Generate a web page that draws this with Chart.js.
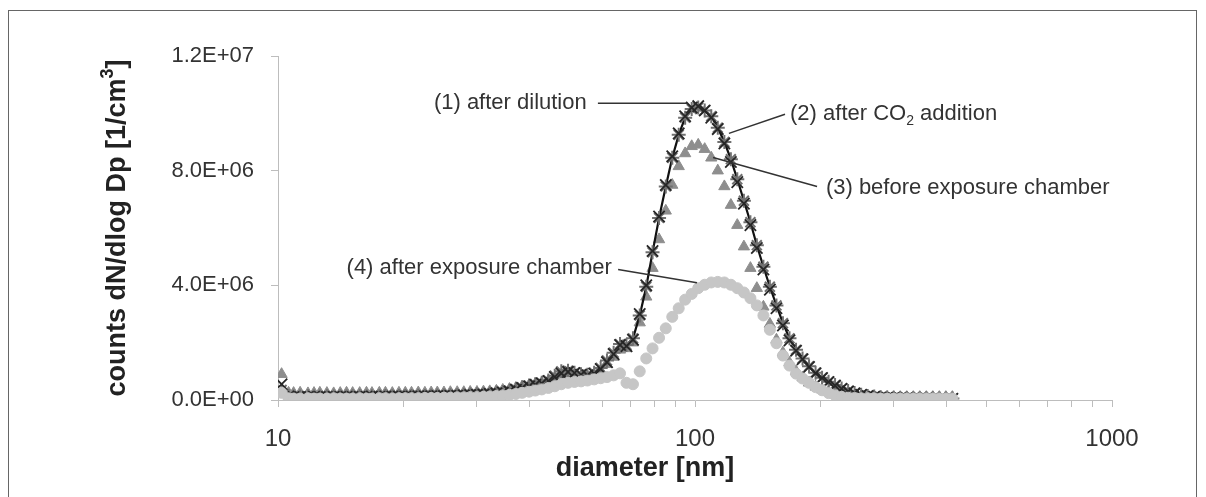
<!DOCTYPE html>
<html>
<head>
<meta charset="utf-8">
<script src="https://cdn.jsdelivr.net/npm/chart.js@4/dist/chart.umd.min.js"></script>
<style>
  html, body { margin: 0; padding: 0; background: #fff; }
</style>
</head>
<body>
<canvas id="chart" width="1206" height="497"></canvas>
<script>
// DATA  (counts in units of 1E+06 per cm3)

var diameters = [
  10.2, 10.6, 10.9, 11.3, 11.8, 12.2, 12.6, 13.1, 13.6, 14.1,
  14.6, 15.1, 15.7, 16.3, 16.8, 17.5, 18.1, 18.8, 19.5, 20.2,
  20.9, 21.7, 22.5, 23.3, 24.1, 25.0, 25.9, 26.9, 27.9, 28.9,
  30.0, 31.1, 32.2, 33.4, 34.6, 35.9, 37.2, 38.5, 40.0, 41.4,
  42.9, 44.5, 46.1, 47.8, 49.6, 51.4, 53.3, 55.2, 57.3, 59.4,
  61.5, 63.8, 66.1, 68.5, 71.0, 73.7, 76.4, 79.1, 82.0, 85.1,
  88.2, 91.4, 94.7, 98.2, 101.8, 105.5, 109.4, 113.4, 117.6, 121.9,
  126.3, 131.0, 135.8, 140.7, 145.9, 151.2, 156.8, 162.5, 168.5, 174.7,
  181.1, 187.7, 194.6, 201.7, 209.1, 216.7, 224.7, 232.9, 241.4, 250.3,
  259.5, 269.0, 278.8, 289.0, 299.6, 310.6, 322.0, 333.8, 346.0, 358.7,
  371.8, 385.4, 399.5, 414.2
];

var afterDilution = [
  0.55, 0.12, 0.10, 0.10, 0.10, 0.11, 0.10, 0.10, 0.11, 0.10,
  0.11, 0.10, 0.11, 0.11, 0.12, 0.11, 0.12, 0.12, 0.12, 0.12,
  0.12, 0.13, 0.13, 0.13, 0.14, 0.14, 0.15, 0.15, 0.16, 0.17,
  0.18, 0.19, 0.21, 0.23, 0.26, 0.30, 0.36, 0.42, 0.48, 0.53,
  0.58, 0.66, 0.80, 0.93, 0.98, 0.94, 0.88, 0.86, 0.92, 1.08,
  1.32, 1.60, 1.92, 1.88, 2.10, 3.00, 4.00, 5.20, 6.40, 7.50,
  8.50, 9.30, 9.90, 10.20, 10.25, 10.10, 9.85, 9.45, 8.95, 8.30,
  7.60, 6.85, 6.10, 5.30, 4.55, 3.85, 3.20, 2.60, 2.08, 1.72,
  1.42, 1.15, 0.93, 0.77, 0.63, 0.50, 0.39, 0.30, 0.23, 0.18,
  0.14, 0.11, 0.09, 0.08, 0.07, 0.06, 0.06, 0.05, 0.05, 0.05,
  0.04, 0.04, 0.04, 0.04
];

var afterCO2 = [
  0.35, 0.14, 0.12, 0.12, 0.13, 0.12, 0.12, 0.13, 0.12, 0.13,
  0.12, 0.13, 0.13, 0.12, 0.13, 0.13, 0.14, 0.13, 0.14, 0.14,
  0.14, 0.15, 0.14, 0.15, 0.16, 0.16, 0.17, 0.17, 0.18, 0.19,
  0.20, 0.21, 0.23, 0.25, 0.28, 0.32, 0.38, 0.44, 0.50, 0.55,
  0.60, 0.68, 0.85, 1.00, 1.02, 0.95, 0.90, 0.88, 0.95, 1.12,
  1.38, 1.65, 1.95, 1.92, 2.15, 2.95, 3.95, 5.15, 6.35, 7.45,
  8.45, 9.25, 9.85, 10.15, 10.20, 10.10, 9.90, 9.50, 9.00, 8.40,
  7.70, 6.95, 6.20, 5.40, 4.65, 3.95, 3.30, 2.68, 2.15, 1.75,
  1.45, 1.18, 0.95, 0.78, 0.64, 0.52, 0.40, 0.31, 0.24, 0.18,
  0.14, 0.12, 0.10, 0.09, 0.08, 0.07, 0.07, 0.06, 0.06, 0.06,
  0.06, 0.05, 0.05, 0.05
];

var beforeChamber = [
  0.90, 0.25, 0.24, 0.25, 0.23, 0.24, 0.25, 0.24, 0.23, 0.24,
  0.25, 0.24, 0.24, 0.25, 0.24, 0.25, 0.25, 0.24, 0.25, 0.25,
  0.25, 0.26, 0.25, 0.26, 0.26, 0.26, 0.27, 0.27, 0.27, 0.28,
  0.28, 0.29, 0.30, 0.32, 0.35, 0.38, 0.42, 0.47, 0.52, 0.56,
  0.60, 0.67, 0.78, 0.88, 0.92, 0.88, 0.84, 0.83, 0.88, 1.02,
  1.25, 1.50, 1.75, 1.80, 2.00, 2.70, 3.60, 4.60, 5.60, 6.60,
  7.50, 8.15, 8.60, 8.85, 8.90, 8.75, 8.45, 8.00, 7.45, 6.80,
  6.10, 5.35, 4.60, 3.90, 3.25, 2.65, 2.10, 1.65, 1.30, 1.00,
  0.78, 0.60, 0.46, 0.36, 0.28, 0.22, 0.18, 0.15, 0.13, 0.12,
  0.11, 0.11, 0.10, 0.10, 0.10, 0.10, 0.10, 0.10, 0.10, 0.10,
  0.10, 0.10, 0.10, 0.10
];

var afterChamber = [
  0.25, 0.06, 0.05, 0.05, 0.06, 0.05, 0.05, 0.05, 0.06, 0.05,
  0.05, 0.05, 0.06, 0.05, 0.05, 0.06, 0.06, 0.05, 0.06, 0.06,
  0.06, 0.06, 0.07, 0.07, 0.07, 0.08, 0.08, 0.09, 0.09, 0.10,
  0.10, 0.11, 0.12, 0.14, 0.16, 0.18, 0.21, 0.25, 0.29, 0.33,
  0.37, 0.42, 0.48, 0.55, 0.60, 0.63, 0.65, 0.68, 0.72, 0.76,
  0.80, 0.86, 0.93, 0.60, 0.55, 1.00, 1.45, 1.80, 2.17, 2.50,
  2.90, 3.20, 3.50, 3.70, 3.90, 4.02, 4.10, 4.12, 4.10, 4.02,
  3.90, 3.75, 3.55, 3.30, 2.95, 2.45, 1.98, 1.55, 1.20, 0.92,
  0.75, 0.60, 0.45, 0.34, 0.24, 0.16, 0.11, 0.08, 0.07, 0.06,
  0.06, 0.06, 0.05, 0.05, 0.05, 0.05, 0.05, 0.05, 0.05, 0.05,
  0.05, 0.05, 0.05, 0.05
];

var xTicks = [10, 20, 30, 40, 50, 60, 70, 80, 90, 100, 200, 300, 400, 500, 600, 700, 800, 900, 1000];
var xLabels = [10, 100, 1000];
var yTicks = [0, 4, 8, 12];

// labels with leader lines, placed in data coordinates (diameter, counts)
var notes = [
  { parts: [['(1) after dilution']], at: [55.0, 10.35], align: 'right', from: [58.5, 10.35], to: [96.0, 10.35] },
  { parts: [['(2) after CO'], ['2', 'sub'], [' addition']], at: [169, 9.97], align: 'left', from: [164.4, 9.97], to: [120.6, 9.3] },
  { parts: [['(3) before exposure chamber']], at: [206, 7.41], align: 'left', from: [196.2, 7.45], to: [110.5, 8.46] },
  { parts: [['(4) after exposure chamber']], at: [63.2, 4.62], align: 'right', from: [65.4, 4.55], to: [101.1, 4.09] }
];

function points(values) {
  return diameters.map(function (d, i) { return { x: d, y: values[i] }; });
}

function sci(v) {
  return (v * 1e6).toExponential(1).toUpperCase().replace(/E([+-])(\d)$/, 'E$10$2');
}

var FONT = '"Liberation Sans", Arial, sans-serif';
var INK = '#333';

function drawParts(ctx, parts, x, y, align, size, bold) {
  var w = 0;
  var fonts = parts.map(function (p) {
    var s = p[1] ? Math.round(size * 0.65) : size;
    return (bold ? 'bold ' : '') + s + 'px ' + FONT;
  });
  parts.forEach(function (p, i) { ctx.font = fonts[i]; w += ctx.measureText(p[0]).width; });
  var cx = align === 'right' ? x - w : (align === 'center' ? x - w / 2 : x);
  parts.forEach(function (p, i) {
    ctx.font = fonts[i];
    var dy = p[1] === 'sub' ? size * 0.3 : (p[1] === 'sup' ? -size * 0.38 : 0);
    ctx.fillText(p[0], cx, y + dy);
    cx += ctx.measureText(p[0]).width;
  });
}

var extras = {
  id: 'extras',
  beforeDraw: function (chart) {
    var ctx = chart.ctx;
    ctx.save();
    ctx.fillStyle = '#fff';
    ctx.fillRect(0, 0, chart.width, chart.height);
    ctx.strokeStyle = '#666';
    ctx.lineWidth = 1;
    ctx.strokeRect(8.5, 10.5, 1188, 520);
    ctx.restore();
  },
  afterDraw: function (chart) {
    var ctx = chart.ctx, xs = chart.scales.x, ys = chart.scales.y;
    ctx.save();
    ctx.fillStyle = INK;
    ctx.strokeStyle = INK;
    ctx.textBaseline = 'middle';

    notes.forEach(function (n) {
      ctx.lineWidth = 1.5;
      ctx.beginPath();
      ctx.moveTo(xs.getPixelForValue(n.from[0]), ys.getPixelForValue(n.from[1]));
      ctx.lineTo(xs.getPixelForValue(n.to[0]), ys.getPixelForValue(n.to[1]));
      ctx.stroke();
      drawParts(ctx, n.parts, xs.getPixelForValue(n.at[0]), ys.getPixelForValue(n.at[1]), n.align, 22, false);
    });

    // axis titles
    ctx.fillStyle = '#222';
    drawParts(ctx, [['diameter [nm]']], 645, 469, 'center', 27, true);
    ctx.translate(118, (chart.chartArea.top + chart.chartArea.bottom) / 2);
    ctx.rotate(-Math.PI / 2);
    drawParts(ctx, [['counts dN/dlog Dp [1/cm'], ['3', 'sup'], [']']], 0, 0, 'center', 27, true);
    ctx.restore();
  }
};

document.addEventListener('DOMContentLoaded', function () {

var ctx = document.getElementById('chart').getContext('2d');

var chart = new Chart(ctx, {
  type: 'scatter',
  data: {
    datasets: [{
      label: '(4) after exposure chamber',
      data: points(afterChamber),
      pointStyle: 'circle',
      pointRadius: 5.5,
      backgroundColor: '#c6c6c6',
      borderColor: '#c6c6c6',
      order: 0
    }, {
      label: '(1) after dilution',
      data: points(afterDilution),
      pointStyle: 'crossRot',
      pointRadius: 8,
      pointBorderWidth: 1.8,
      borderColor: '#262626',
      backgroundColor: '#262626',
      order: 1
    }, {
      label: '(2) after CO2 addition',
      data: points(afterCO2),
      showLine: true,
      borderColor: '#111',
      borderWidth: 2.2,
      pointStyle: 'star',
      pointRadius: 7,
      pointBorderWidth: 2,
      pointBorderColor: '#707070',
      pointBackgroundColor: '#707070',
      order: 2
    }, {
      label: '(3) before exposure chamber',
      data: points(beforeChamber),
      pointStyle: 'triangle',
      pointRadius: 6.5,
      backgroundColor: '#8e8e8e',
      borderColor: '#8e8e8e',
      order: 3
    }]
  },
  options: {
    responsive: false,
    animation: false,
    devicePixelRatio: 1,
    layout: { padding: { left: 0, right: 94, top: 56, bottom: 0 } },
    plugins: { legend: { display: false }, tooltip: { enabled: false } },
    scales: {
      x: {
        type: 'logarithmic',
        position: 'bottom',
        min: 10,
        max: 1000,
        afterBuildTicks: function (s) { s.ticks = xTicks.map(function (v) { return { value: v }; }); },
        afterFit: function (s) { s.height = 97; },
        ticks: {
          autoSkip: false,
          maxRotation: 0,
          padding: 18,
          color: INK,
          font: { family: FONT, size: 24 },
          callback: function (v) { return xLabels.indexOf(v) >= 0 ? String(v) : ''; }
        },
        grid: { drawOnChartArea: false, tickLength: 7, color: '#bdbdbd' },
        border: { color: '#bdbdbd', width: 1 }
      },
      y: {
        min: 0,
        max: 12,
        afterBuildTicks: function (s) { s.ticks = yTicks.map(function (v) { return { value: v }; }); },
        afterFit: function (s) { s.width = 278; },
        ticks: {
          padding: 17,
          color: INK,
          font: { family: FONT, size: 22 },
          callback: function (v) { return sci(v); }
        },
        grid: { drawOnChartArea: false, tickLength: 7, color: '#bdbdbd' },
        border: { color: '#bdbdbd', width: 1 }
      }
    }
  },
  plugins: [extras]
});

});
</script>
</body>
</html>
